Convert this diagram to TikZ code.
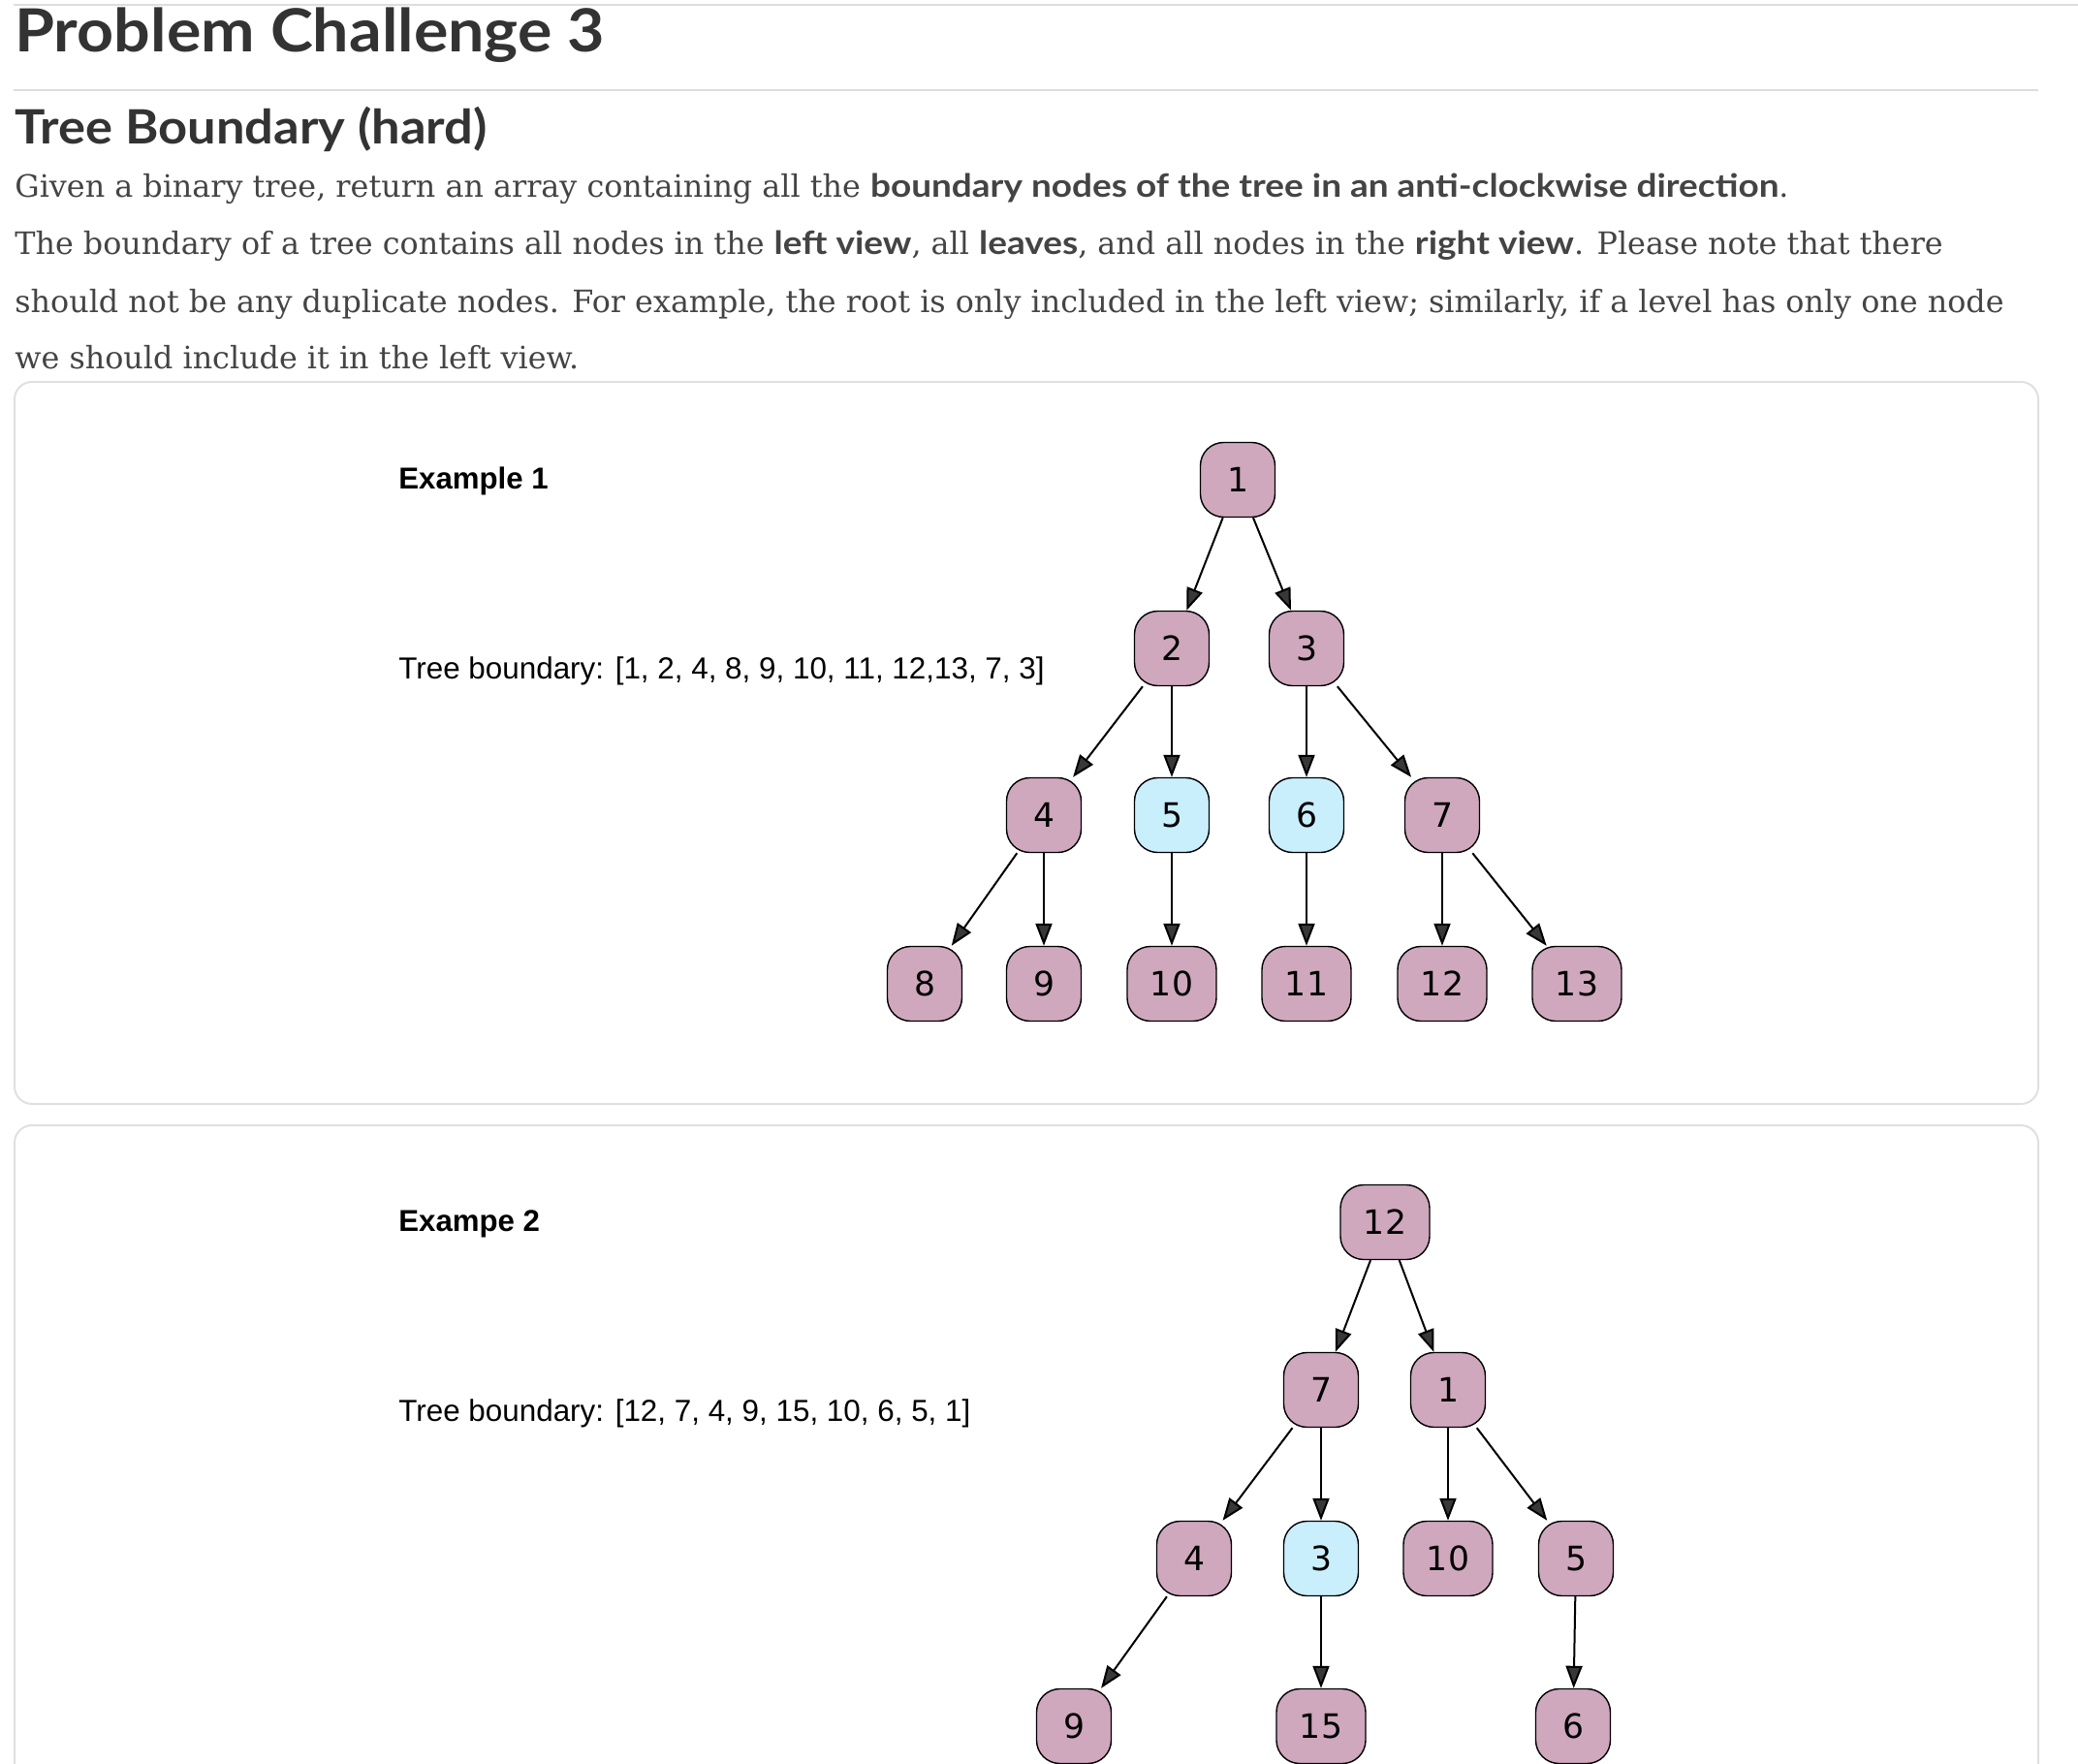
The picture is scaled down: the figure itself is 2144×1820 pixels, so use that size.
\documentclass[tikz,border=0pt]{standalone}
\usepackage{fontspec}
\setmainfont{DejaVu Serif}
\newfontfamily\titlefont{Lato}[FakeStretch=1.08]
\newfontfamily\subtitlefont{Lato}[FakeStretch=1.075]
\newfontfamily\inlinebold{Lato}[FakeStretch=1.12]
\newfontfamily\helv{Liberation Sans}
\newfontfamily\numfont{DejaVu Sans}
\usetikzlibrary{arrows.meta}
\definecolor{pinkfill}{HTML}{CFA8BD}
\definecolor{bluefill}{HTML}{C9EEFC}
\definecolor{rulegray}{HTML}{DDDDDD}
\definecolor{boxgray}{HTML}{E0E0E0}
\definecolor{textgray}{HTML}{444444}
\definecolor{headgray}{HTML}{333333}
\definecolor{tipfill}{HTML}{383838}
\newcommand\bb[1]{{\inlinebold\bfseries\fontsize{16.5}{20}\selectfont #1}}
\begin{document}
\begin{tikzpicture}[x=0.5pt,y=-0.5pt,
  tnode/.style={draw=black, line width=0.7pt, rounded corners=12pt, fill=pinkfill,
    minimum width=38.5pt, minimum height=38.5pt, inner xsep=12pt, inner ysep=0pt,
    font=\numfont\fontsize{17.3}{17}\selectfont},
  bluenode/.style={tnode, fill=bluefill},
  edge/.style={line width=1pt, draw=black, -{Triangle[length=11.5pt,width=8.5pt,fill=tipfill]}},
  bodytext/.style={anchor=base west, inner sep=0pt, text=textgray, font=\fontsize{15.9}{19}\selectfont},
  titletext/.style={anchor=base west, inner sep=0pt, text=headgray},
  extext/.style={anchor=base west, inner sep=0pt, text=black, font=\helv\fontsize{15.7}{18}\selectfont},
  exbold/.style={extext, font=\helv\bfseries\fontsize{15.6}{18}\selectfont},
  rulestyle/.style={draw=rulegray, line width=1.3pt},
  boxstyle/.style={draw=boxgray, line width=1pt, rounded corners=9pt}
]
\useasboundingbox (0,0) rectangle (2144,1820);
\clip (0,0) rectangle (2144,1820);

% rules
\draw[rulestyle] (14,5) -- (2144,5);
\draw[rulestyle] (14,93) -- (2103,93);

% headings
\node[titletext, font=\titlefont\bfseries\fontsize{30.7}{34}\selectfont] (title) at (15,54) {Problem Challenge 3};
\node[titletext, font=\subtitlefont\bfseries\fontsize{24.4}{28}\selectfont] (subtitle) at (15,148) {Tree Boundary (hard)};

% body
\node[bodytext] (l1) at (15,203) {Given a binary tree, return an array containing all the \bb{boundary nodes of the tree in an anti-clockwise direction}.};
\node[bodytext] (l2) at (15,262) {The boundary of a tree contains all nodes in the \bb{left view}, all \bb{leaves}, and all nodes in the \bb{right view}. Please note that there};
\node[bodytext] (l3) at (15,322) {should not be any duplicate nodes. For example, the root is only included in the left view; similarly, if a level has only one node};
\node[bodytext] (l4) at (15,380) {we should include it in the left view.};

% boxes
\draw[boxstyle] (15,394) rectangle (2103,1139);
\draw[boxstyle] (15,1161) rectangle (2103,1900);

% example 1
\node[exbold] (ex1) at (411,504) {Example 1};
\node[extext] (tb1) at (411,700) {Tree boundary: [1, 2, 4, 8, 9, 10, 11, 12,13, 7, 3]};

\node[tnode] (a1) at (1277,495) {1};
\node[tnode] (a2) at (1209,669) {2};
\node[tnode] (a3) at (1348,669) {3};
\node[tnode] (a4) at (1077,841) {4};
\node[bluenode] (a5) at (1209,841) {5};
\node[bluenode] (a6) at (1348,841) {6};
\node[tnode] (a7) at (1488,841) {7};
\node[tnode] (a8) at (954,1015) {8};
\node[tnode] (a9) at (1077,1015) {9};
\node[tnode] (a10) at (1209,1015) {10};
\node[tnode] (a11) at (1348,1015) {11};
\node[tnode] (a12) at (1488,1015) {12};
\node[tnode] (a13) at (1627,1015) {13};

\draw[edge] (a1) -- (a2);
\draw[edge] (a1) -- (a3);
\draw[edge] (a2) -- (a4);
\draw[edge] (a2) -- (a5);
\draw[edge] (a3) -- (a6);
\draw[edge] (a3) -- (a7);
\draw[edge] (a4) -- (a8);
\draw[edge] (a4) -- (a9);
\draw[edge] (a5) -- (a10);
\draw[edge] (a6) -- (a11);
\draw[edge] (a7) -- (a12);
\draw[edge] (a7) -- (a13);

% example 2
\node[exbold] (ex2) at (411,1270) {Exampe 2};
\node[extext] (tb2) at (411,1466) {Tree boundary: [12, 7, 4, 9, 15, 10, 6, 5, 1]};

\node[tnode] (b12) at (1429,1261) {12};
\node[tnode] (b7) at (1363,1434) {7};
\node[tnode] (b1) at (1494,1434) {1};
\node[tnode] (b4) at (1232,1608) {4};
\node[bluenode] (b3) at (1363,1608) {3};
\node[tnode] (b10) at (1494,1608) {10};
\node[tnode] (b5) at (1626,1608) {5};
\node[tnode] (b9) at (1108,1781) {9};
\node[tnode] (b15) at (1363,1781) {15};
\node[tnode] (b6) at (1623,1781) {6};

\draw[edge] (b12) -- (b7);
\draw[edge] (b12) -- (b1);
\draw[edge] (b7) -- (b4);
\draw[edge] (b7) -- (b3);
\draw[edge] (b1) -- (b10);
\draw[edge] (b1) -- (b5);
\draw[edge] (b4) -- (b9);
\draw[edge] (b3) -- (b15);
\draw[edge] (b5) -- (b6);
\end{tikzpicture}
\end{document}
